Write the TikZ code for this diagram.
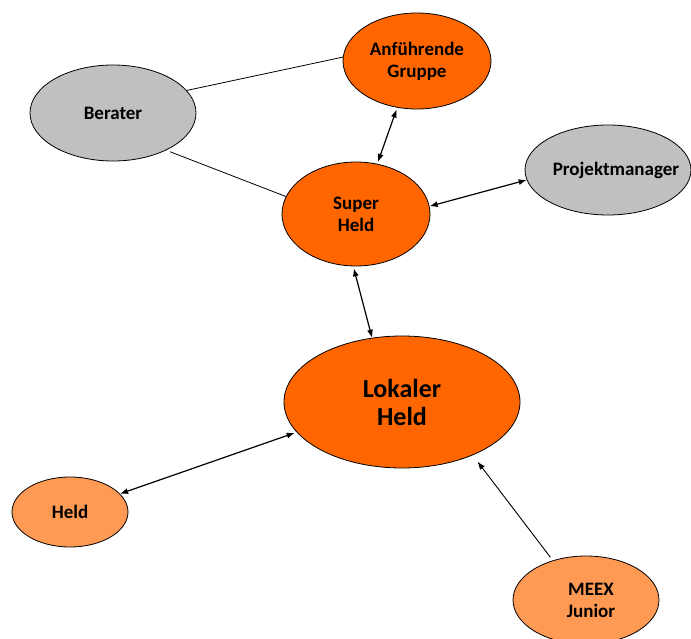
\documentclass[tikz,border=0pt]{standalone}
\usepackage{fontspec}
\setmainfont{Carlito}
\usetikzlibrary{shapes.geometric,arrows.meta}
\definecolor{orangemain}{HTML}{FF6600}
\definecolor{orangelight}{HTML}{FF9A55}
\definecolor{greyfill}{HTML}{C0C0C0}
\begin{document}
\begin{tikzpicture}[x=1pt,y=-1pt,
  ell/.style={ellipse, draw=black, line width=0.8pt, inner sep=0pt, align=center,
              font=\bfseries\fontsize{19}{22}\selectfont},
  mainnode/.style={ell, fill=orangemain},
  lightnode/.style={ell, fill=orangelight},
  greynode/.style={ell, fill=greyfill},
  link/.style={line width=0.8pt},
  bothway/.style={line width=1.2pt, {Latex[length=8pt,width=6pt]}-{Latex[length=8pt,width=6pt]}},
  oneway/.style={line width=0.9pt, -{Latex[length=8pt,width=6pt]}}]
\useasboundingbox[fill=white] (0,0) rectangle (691,639);

\node[mainnode, minimum width=148pt, minimum height=96pt] (anf) at (417,61) {Anführende\\Gruppe};
\node[greynode, minimum width=166pt, minimum height=96pt] (ber) at (113,113) {Berater};
\node[mainnode, minimum width=148pt, minimum height=104pt] (sup) at (356,214) {Super\\Held};
\node[greynode, minimum width=166pt, minimum height=90pt] (proj) at (608,170) {\makebox[80pt]{\hspace{16pt}Projektmanager}};
\node[mainnode, minimum width=236pt, minimum height=132pt,
      font=\bfseries\fontsize{26}{28}\selectfont] (lok) at (402,402) {Lokaler\\Held};
\node[lightnode, minimum width=116pt, minimum height=70pt] (held) at (70,512) {Held};
\node[lightnode, minimum width=146pt, minimum height=88pt] (meex) at (586,600) {\hspace*{10pt}MEEX\\\hspace*{10pt}Junior};

\draw[link] (ber.17) -- (anf.177);
\draw[link, shorten <=4pt] (ber.-35) -- (sup.166);
\draw[bothway, shorten <=2pt, shorten >=2pt] (anf.-113) -- (sup.67);
\draw[bothway] (sup.6) -- (proj.-173);
\draw[bothway, shorten <=2pt] (sup.-93) -- (lok.115);
\draw[bothway, shorten <=2pt] (lok.-164) -- (held.20);
\draw[oneway, shorten <=4pt, shorten >=8pt] (meex.130) -- (lok.-37);
\end{tikzpicture}
\end{document}
